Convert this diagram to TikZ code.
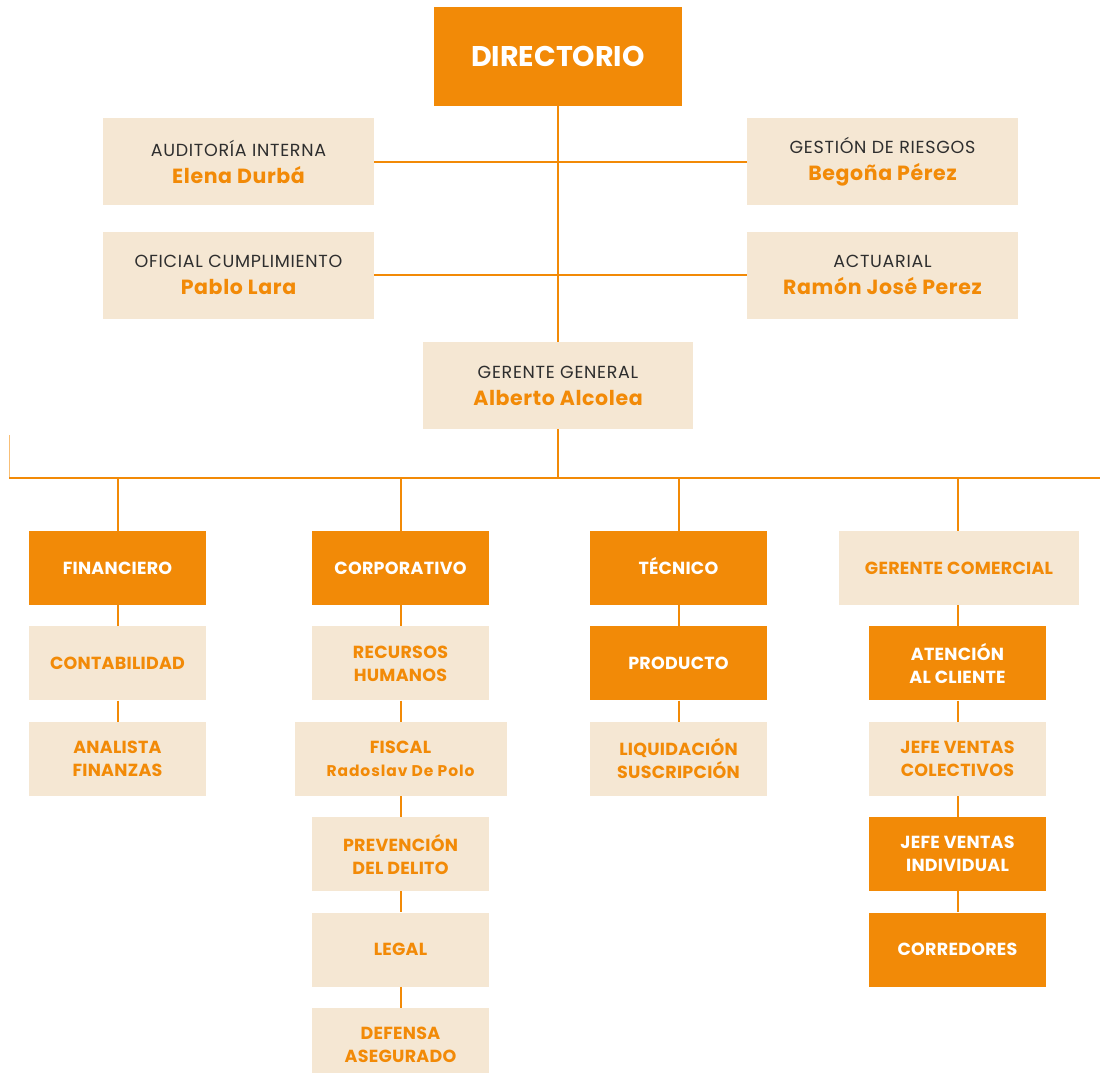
\documentclass[tikz,border=0pt]{standalone}
\usepackage{fontspec}
\setmainfont{Poppins}
\usetikzlibrary{positioning}

\definecolor{naranja}{HTML}{F28A07}
\definecolor{crema}{HTML}{F5E7D3}
\definecolor{gris}{HTML}{2E2E2E}

\newcommand{\nombre}[1]{{\color{naranja}\bfseries\fontsize{20.5}{20.5}\selectfont\addfontfeature{LetterSpace=3}#1}}

\begin{document}
\begin{tikzpicture}[x=1pt,y=-1pt,
  caja/.style={minimum width=177pt,minimum height=74pt,inner sep=0pt,align=center,
    font=\fontsize{17.5}{23}\selectfont\bfseries\addfontfeature{LetterSpace=1.5}},
  llena/.style={caja,fill=naranja,text=white},
  clara/.style={caja,fill=crema,text=naranja},
  jefe/.style={fill=crema,minimum width=271pt,minimum height=87pt,inner sep=0pt,
    align=center,text=gris,font=\fontsize{17.5}{27}\selectfont\addfontfeature{LetterSpace=4}},
  linea/.style={draw=naranja,line width=2pt},
  node distance=21pt]
  \useasboundingbox (0,0) rectangle (1100,1072);

  % top
  \node[fill=naranja,text=white,minimum width=248pt,minimum height=99pt,
    font=\fontsize{28.5}{28.5}\selectfont\bfseries] (dir) at (558,56.5) {DIRECTORIO};
  \node[jefe] (aud) at (238.5,161.5) {AUDITORÍA INTERNA\\\nombre{Elena Durbá}};
  \node[jefe] (ges) at (882.5,161.5) {GESTIÓN DE RIESGOS\\\nombre{Begoña Pérez}};
  \node[jefe] (ofi) at (238.5,275) {OFICIAL CUMPLIMIENTO\\\nombre{Pablo Lara}};
  \node[jefe] (act) at (882.5,275) {ACTUARIAL\\\nombre{Ramón José Perez}};
  \node[jefe,minimum width=270pt] (gg) at (558,385.5) {GERENTE GENERAL\\\nombre{Alberto Alcolea}};

  \coordinate (busL) at (9,478);
  \coordinate (busR) at (1100,478);
  \coordinate (tick) at (9,435);

  % columns
  \node[llena] (fin) at (117.5,568) {FINANCIERO};
  \node[clara, below=of fin] (cont) {CONTABILIDAD};
  \node[clara, below=of cont] (anal) {ANALISTA\\FINANZAS};

  \node[llena] (corp) at (400.5,568) {CORPORATIVO};
  \node[clara, below=of corp] (rrhh) {RECURSOS\\HUMANOS};
  \node[clara, below=of rrhh, minimum width=212pt] (fis)
    {FISCAL\\{\fontsize{15.5}{15.5}\selectfont\addfontfeature{LetterSpace=6}Radoslav De Polo}};
  \node[clara, below=of fis] (prev) {PREVENCIÓN\\DEL DELITO};
  \node[clara, below=of prev] (leg) {LEGAL};
  \node[clara, below=of leg] (def) {DEFENSA\\ASEGURADO};

  \node[llena] (tec) at (678.5,568) {T\smash{É}CNICO};
  \node[llena, below=of tec] (prod) {PRODUCTO};
  \node[clara, below=of prod] (liq) {LIQUIDACIÓN\\SUSCRIPCIÓN};

  \node[clara, minimum width=240pt] (gc) at (959,568) {GERENTE COMERCIAL};
  \node[llena, below=of gc, xshift=-1.5pt] (aten) {ATENCIÓN\\AL CLIENTE};
  \node[clara, below=of aten] (jvc) {JEFE VENTAS\\COLECTIVOS};
  \node[llena, below=of jvc] (jvi) {JEFE VENTAS\\INDIVIDUAL};
  \node[llena, below=of jvi] (corr) {CORREDORES};

  % lines
  \draw[linea] (dir) -- (gg);
  \draw[linea] (aud) -- (ges);
  \draw[linea] (ofi) -- (act);
  \draw[naranja!55,line width=1pt] (tick) -- (busL);
  \draw[linea] (busL) -- (busR);
  \draw[linea] (gg.south) -- (gg.south |- busL);
  \foreach \n in {fin,corp,tec}
    \draw[linea] (\n.north) -- (\n.north |- busL);
  \draw[linea] (aten.north |- gc.north) -- (aten.north |- busL);
  \foreach \a/\b in {fin/cont,cont/anal,corp/rrhh,rrhh/fis,fis/prev,prev/leg,leg/def,
      tec/prod,prod/liq,aten/jvc,jvc/jvi,jvi/corr}
    \draw[linea] (\a) -- (\b);
  \draw[linea] (aten.north) -- (aten.north |- gc.south);
\end{tikzpicture}
\end{document}
